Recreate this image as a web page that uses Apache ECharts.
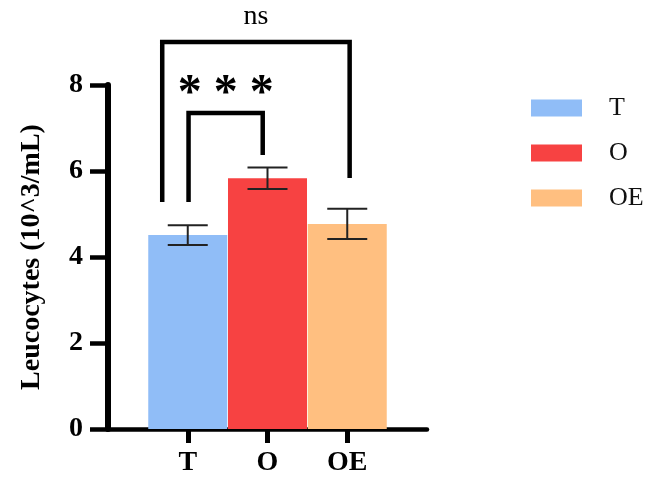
<!DOCTYPE html>
<html>
<head>
<meta charset="utf-8">
<script src="https://cdn.jsdelivr.net/npm/echarts@6/dist/echarts.min.js"></script>
<style>
  html, body { margin: 0; padding: 0; background: #fff; }
  #chart { width: 662px; height: 477px; }
</style>
</head>
<body>
<div id="chart"></div>
<script>
// Groups and measurements (mean ± SEM), leucocytes in 10^3/mL
const groups = ['T', 'O', 'OE'];
const means = [4.51, 5.83, 4.77];
const errors = [0.23, 0.25, 0.35];
const colors = ['#90BDF7', '#F74242', '#FFBF80'];
const yTicks = [0, 2, 4, 6, 8];

// Significance brackets: [leftX, rightX, topY, leftEndY, rightEndY, labelY]
const bracketPos = [
  [-0.32, 2.03, 9.0, 5.28, 5.84, 9.58],
  [0.01, 0.94, 7.35, 5.28, 6.37, 7.78]
];
const bracketText = ['ns', '* * *'];

const serif = '"Liberation Serif", "Times New Roman", serif';
const ink = '#000';

const chart = echarts.init(document.getElementById('chart'));

const barSeries = groups.map((g, i) => ({
  name: g,
  type: 'bar',
  barWidth: 79,
  barGap: '-100%',
  itemStyle: { color: colors[i] },
  data: [[i, means[i]]],
  z: 2
}));

const errorSeries = {
  type: 'custom',
  name: 'err',
  silent: true,
  z: 5,
  data: groups.map((g, i) => [i, means[i] - errors[i], means[i] + errors[i]]),
  renderItem(params, api) {
    const x = api.value(0);
    const lo = api.coord([x, api.value(1)]);
    const hi = api.coord([x, api.value(2)]);
    const half = 20;
    const style = { stroke: '#222', lineWidth: 2 };
    return {
      type: 'group',
      children: [
        { type: 'line', shape: { x1: hi[0], y1: hi[1], x2: lo[0], y2: lo[1] }, style },
        { type: 'line', shape: { x1: hi[0] - half, y1: hi[1], x2: hi[0] + half, y2: hi[1] }, style },
        { type: 'line', shape: { x1: lo[0] - half, y1: lo[1], x2: lo[0] + half, y2: lo[1] }, style }
      ]
    };
  }
};

const bracketSeries = {
  type: 'custom',
  name: 'sig',
  silent: true,
  clip: false,
  z: 6,
  data: bracketPos.map((b, i) => b.concat([i])),
  renderItem(params, api) {
    const x1 = api.value(0), x2 = api.value(1);
    const top = api.value(2), yl = api.value(3), yr = api.value(4), ly = api.value(5);
    const idx = api.value(6);
    const pl = api.coord([x1, yl]);
    const tl = api.coord([x1, top]);
    const tr = api.coord([x2, top]);
    const pr = api.coord([x2, yr]);
    const lab = api.coord([(x1 + x2) / 2, ly]);
    const isStars = idx === 1;
    return {
      type: 'group',
      children: [
        {
          type: 'polyline',
          shape: { points: [pl, tl, tr, pr] },
          style: { stroke: ink, lineWidth: 4.5, fill: null, lineJoin: 'miter' }
        },
        {
          type: 'text',
          x: lab[0], y: lab[1],
          style: {
            text: bracketText[idx],
            fill: ink,
            font: (isStars ? 'bold 48px ' : '28px ') + serif,
            align: 'center',
            verticalAlign: 'middle'
          }
        }
      ]
    };
  }
};

chart.setOption({
  backgroundColor: '#fff',
  animation: false,
  grid: { left: 108, top: 85, width: 319, height: 344, containLabel: false },
  legend: {
    data: groups,
    orient: 'vertical',
    left: 531,
    top: 95,
    padding: 0,
    icon: 'rect',
    itemWidth: 51,
    itemHeight: 17,
    itemGap: 19,
    textStyle: {
      fontFamily: serif,
      fontSize: 26,
      lineHeight: 26,
      color: '#111',
      padding: [0, 0, 0, 22]
    }
  },
  xAxis: {
    type: 'value',
    min: -1,
    max: 3,
    interval: 1,
    splitLine: { show: false },
    axisLine: { show: true, lineStyle: { color: ink, width: 4.5 } },
    axisTick: { show: true, customValues: [0, 1, 2], length: 14, lineStyle: { color: ink, width: 5 } },
    axisLabel: {
      customValues: [0, 1, 2],
      formatter: v => groups[Math.round(v)] || '',
      margin: 20,
      fontFamily: serif,
      fontWeight: 'bold',
      fontSize: 28,
      color: ink
    }
  },
  yAxis: {
    type: 'value',
    min: 0,
    max: 8,
    interval: 2,
    splitLine: { show: false },
    axisLine: { show: true, onZero: false, lineStyle: { color: ink, width: 6 } },
    axisTick: { show: true, length: 18, lineStyle: { color: ink, width: 4.5 } },
    axisLabel: {
      customValues: yTicks,
      margin: 25,
      fontFamily: serif,
      fontWeight: 'bold',
      fontSize: 28,
      color: ink
    },
    name: 'Leucocytes (10^3/mL)',
    nameLocation: 'middle',
    nameGap: 62,
    nameTextStyle: {
      fontFamily: serif,
      fontWeight: 'bold',
      fontSize: 28,
      color: ink
    }
  },
  series: barSeries.concat([errorSeries, bracketSeries])
});
</script>
</body>
</html>
